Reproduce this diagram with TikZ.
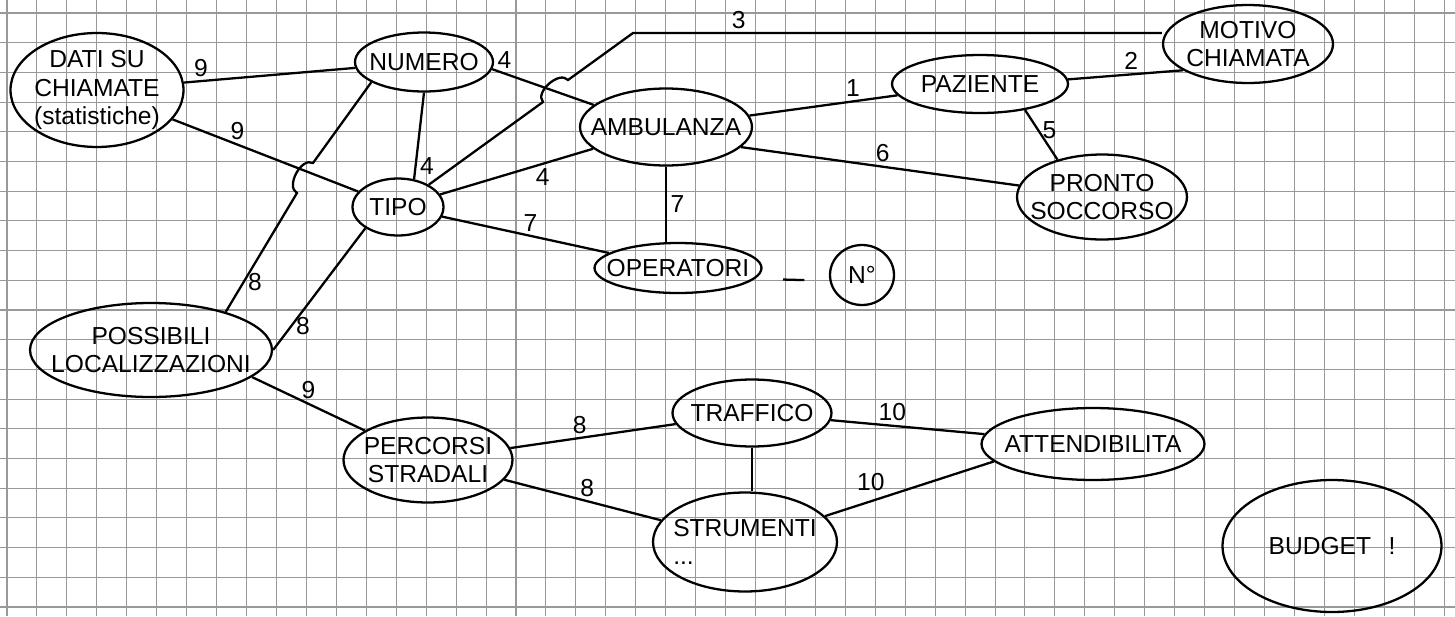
\documentclass[tikz,border=0pt]{standalone}
\usepackage{fontspec}
\setmainfont{Liberation Sans}
\usepackage{tikz}
\usetikzlibrary{shapes.geometric}

\begin{document}
\begin{tikzpicture}[x=0.02cm, y=0.02cm, auto, line width=1.3pt,
	font=\fontsize{14}{16}\selectfont,
	every node/.style={inner sep=2pt},
	blob/.style={ellipse, draw, inner xsep=-1cm, inner ysep=-0.4cm, align=center},
	gridline/.style={line width=0.6pt, black!40}]

					\useasboundingbox (0,0) rectangle (1455,-616);

					% squared paper
					\foreach \i in {0,...,48}
						\draw[gridline] ({7+29.94*\i},0) -- ({7+29.94*\i},-616);
					\foreach \j in {0,...,20}
						\draw[gridline] (0,{-13-29.7*\j}) -- (1455,{-13-29.7*\j});

					\node[blob, minimum width=3.46cm, minimum height=2.28cm] (dati) at (97,-90) {DATI SU\\CHIAMATE\\(statistiche)};
					\node[blob, minimum width=2.76cm, minimum height=1.18cm] (num) at (424,-62) {NUMERO};
					\node[blob, minimum width=1.82cm, minimum height=1.14cm] (tipo) at (398,-207) {TIPO};
					\node[blob, minimum width=3.44cm, minimum height=1.54cm] (amb) at (666,-127) {AMBULANZA};
					\node[blob, minimum width=3.52cm, minimum height=1.16cm] (paz) at (980,-84) {PAZIENTE};
					\node[blob, minimum width=3.4cm, minimum height=1.56cm] (mot) at (1248,-44) {MOTIVO\\CHIAMATA};
					\node[blob, minimum width=3.4cm, minimum height=1.7cm] (ps) at (1102,-197) {PRONTO\\SOCCORSO};
					\node[blob, minimum width=3.34cm, minimum height=1.0cm] (oper) at (678,-268) {OPERATORI};
					\node[blob, minimum width=1.28cm, minimum height=1.2cm] (nr) at (862,-275) {N°};
					\node[blob, minimum width=4.84cm, minimum height=1.88cm] (poss) at (151,-350) {POSSIBILI\\LOCALIZZAZIONI};
					\node[blob, minimum width=3.38cm, minimum height=1.7cm] (perc) at (428,-460) {PERCORSI\\STRADALI};
					\node[blob, minimum width=3.18cm, minimum height=1.34cm] (traf) at (752,-413) {TRAFFICO};
					\node[blob, minimum width=4.46cm, minimum height=1.44cm] (att) at (1093,-444) {ATTENDIBILITA};
					\node[blob, align=left, minimum width=3.68cm, minimum height=1.98cm] (stru) at (745,-542) {STRUMENTI\\...};
					\node[blob, minimum width=4.38cm, minimum height=2.64cm] (bud) at (1332,-546) {BUDGET\hspace{0.35cm}!};

					% hops where two lines cross
					\coordinate (h1a) at (313,-163);
					\coordinate (h1b) at (297,-193);
					\coordinate (h2a) at (543,-102);
					\coordinate (h2b) at (568,-80);
					\coordinate (c3) at (633,-33);

					\path
					(dati) edge node[pos=0.1, above] {9} (num)
					(dati) edge node[pos=0.35, above] {9} (tipo)
					(num.south) edge node[pos=0.85, right] {4} (tipo.60)
					(num.-6) edge node[pos=0.12, above] {4} (amb.163)
					(tipo) edge node[pos=0.67, below] {4} (amb)
					(tipo) edge node[pos=0.53, above] {7} (oper)
					(amb.south) edge node[right] {7} (amb.south |- oper.north)
					(amb) edge node[pos=0.7, above] {1} (paz)
					(amb.-15) edge node[pos=0.51, above] {6} (ps)
					(paz.3) edge node[pos=0.55, above] {2} (mot.202)
					(paz.-30) edge node[pos=0.4, right] {5} (ps.140)
					(tipo.213) edge node[pos=0.8, right] {8} (poss.east)
					(poss.-15) edge node[above] {9} (perc.155)
					(perc) edge node[pos=0.42, above] {8} (traf)
					(perc) edge node[pos=0.53, above] {8} (stru)
					(traf.south) edge (traf.south |- stru.north)
					(traf) edge node[pos=0.4, above] {10} (att)
					(stru) edge node[pos=0.38, above left=0pt] {10} (att.190)
					(oper.-8) edge[shorten <=0.56cm, shorten >=0.5cm] (nr.190);

					\draw (num.201) -- (h1a) to[bend right=90] (h1b) -- node[pos=0.75, right] {8} (poss.27);
					\draw (tipo) -- (h2a) to[bend left=90] (h2b) -- (c3) -- node[pos=0.2, above] {3} (c3 -| mot.west);
					\end{tikzpicture}
\end{document}
